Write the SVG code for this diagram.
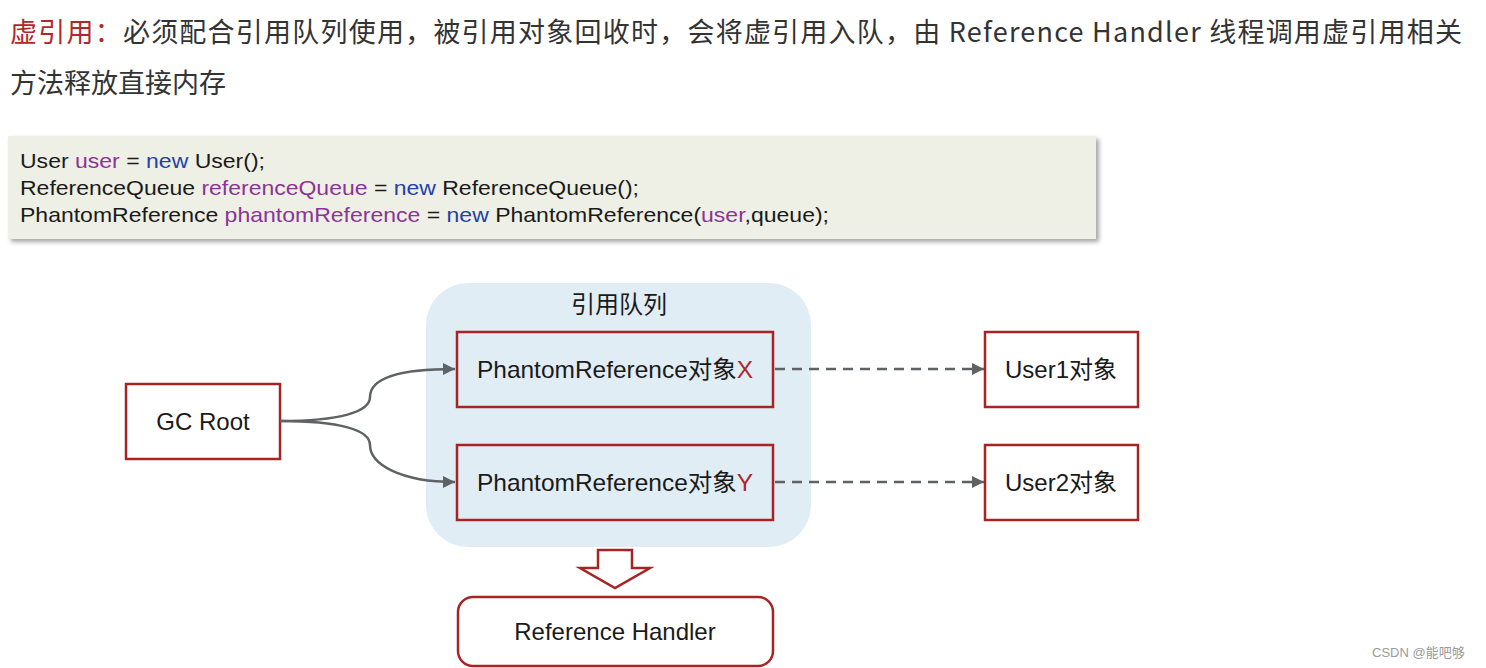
<svg xmlns="http://www.w3.org/2000/svg" width="1486" height="668" viewBox="0 0 1486 668">
<defs>
<style>
.cjk{font-family:"Noto Sans CJK SC","Noto Sans",sans-serif;}
.lbl{font-family:"Liberation Sans","Noto Sans CJK SC",Arial,sans-serif;font-size:24px;fill:#1a1a1a;text-anchor:middle;}
.code{font-family:"Liberation Sans",Arial,sans-serif;font-size:21px;fill:#1a1a1a;}
.var{fill:#8a3597;}
.kw{fill:#2540a8;}
.red{fill:#b0282a;}
.node{fill:#ffffff;stroke:#a82424;stroke-width:2.5;}
.qnode{fill:#e1edf4;stroke:#a82424;stroke-width:2.5;}
.curve{fill:none;stroke:#5f6264;stroke-width:2.5;}
.dash{fill:none;stroke:#5f6264;stroke-width:2.5;stroke-dasharray:10 7;}
</style>
<marker id="ah" viewBox="0 0 10 10" refX="10" refY="5" markerWidth="5" markerHeight="5" orient="auto" markerUnits="strokeWidth">
<path d="M0,0 L10,5 L0,10 z" fill="#5f6264"/>
</marker>
<filter id="sh" x="-5%" y="-10%" width="110%" height="130%">
<feDropShadow dx="3" dy="3" stdDeviation="2" flood-color="#000" flood-opacity="0.35"/>
</filter>
</defs>
<rect width="1486" height="668" fill="#ffffff"/>

<g id="heading" class="cjk" font-size="27" fill="#333333">
<text x="10" y="42" textLength="1452" lengthAdjust="spacing"><tspan class="red">虚引用：</tspan>必须配合引用队列使用，被引用对象回收时，会将虚引用入队，由 Reference Handler 线程调用虚引用相关</text>
<text x="10" y="93">方法释放直接内存</text>
</g>

<g id="code">
<rect x="8" y="136" width="1088" height="103" fill="#eef0e5" filter="url(#sh)"/>
<text class="code" x="20" y="168" textLength="245" lengthAdjust="spacingAndGlyphs">User <tspan class="var">user</tspan> = <tspan class="kw">new</tspan> User();</text>
<text class="code" x="20" y="195" textLength="619" lengthAdjust="spacingAndGlyphs">ReferenceQueue <tspan class="var">referenceQueue</tspan> = <tspan class="kw">new</tspan> ReferenceQueue();</text>
<text class="code" x="20" y="222" textLength="809" lengthAdjust="spacingAndGlyphs">PhantomReference <tspan class="var">phantomReference</tspan> = <tspan class="kw">new</tspan> PhantomReference(<tspan class="var">user</tspan>,queue);</text>
</g>

<g id="queue">
<rect x="426" y="283" width="385" height="264" rx="42" fill="#e1edf4"/>
<text class="lbl cjk" x="619" y="313" font-size="23">引用队列</text>
</g>

<g id="gcroot">
<rect class="node" x="126" y="384" width="154" height="75"/>
<text class="lbl" x="203" y="430">GC Root</text>
</g>

<g id="prefX">
<rect class="qnode" x="457" y="332" width="316" height="75"/>
<text class="lbl" x="615" y="378" textLength="276" lengthAdjust="spacingAndGlyphs">PhantomReference对象<tspan class="red">X</tspan></text>
</g>

<g id="prefY">
<rect class="qnode" x="457" y="445" width="316" height="75"/>
<text class="lbl" x="615" y="491" textLength="276" lengthAdjust="spacingAndGlyphs">PhantomReference对象<tspan class="red">Y</tspan></text>
</g>

<g id="user1">
<rect class="node" x="985" y="332" width="153" height="75"/>
<text class="lbl" x="1061" y="378">User1对象</text>
</g>

<g id="user2">
<rect class="node" x="985" y="445" width="153" height="75"/>
<text class="lbl" x="1061" y="491">User2对象</text>
</g>

<g id="handler">
<rect class="node" x="458" y="597" width="315" height="69" rx="15"/>
<text class="lbl" x="615" y="640" font-size="21">Reference Handler</text>
</g>

<g id="connectors">
<path class="curve" d="M280,421 C340,421 370,412 370,397 C370,378 400,369 455,369" marker-end="url(#ah)"/>
<path class="curve" d="M280,421 C340,421 370,430 370,445 C370,464 400,482 455,482" marker-end="url(#ah)"/>
<path class="dash" d="M775,369 L984,369" marker-end="url(#ah)"/>
<path class="dash" d="M775,482 L984,482" marker-end="url(#ah)"/>
<path d="M598,550 L632,550 L632,568 L650,568 L615,588 L580,568 L598,568 Z" fill="#ffffff" stroke="#a82424" stroke-width="2.5" stroke-linejoin="miter"/>
</g>

<text x="1372" y="657" font-family="Liberation Sans,'Noto Sans CJK SC',sans-serif" font-size="13" fill="#9a9a9a">CSDN @能吧够</text>
</svg>
